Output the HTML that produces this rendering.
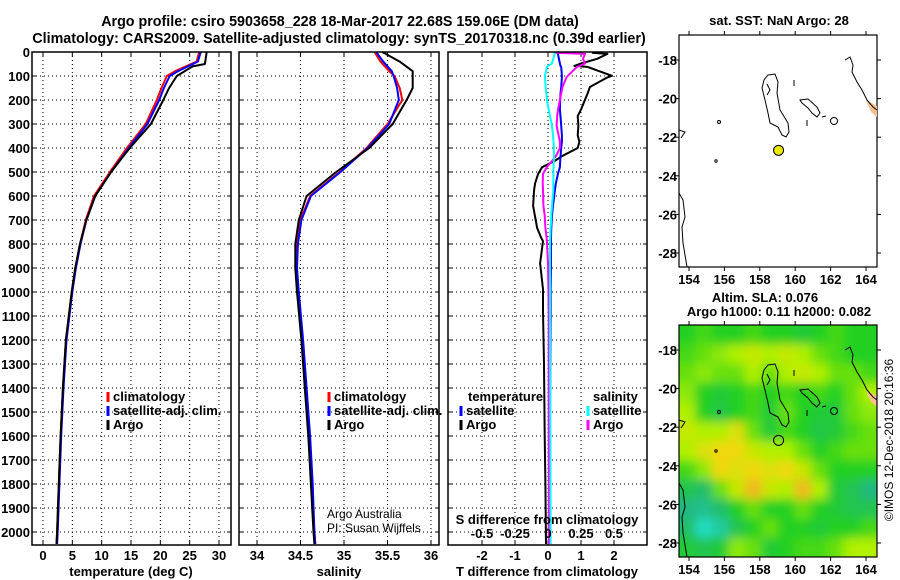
<!DOCTYPE html>
<html><head><meta charset="utf-8">
<style>
html,body{margin:0;padding:0;background:#fff;}
svg{display:block;font-family:"Liberation Sans",Arial,sans-serif;}
.b{font-weight:bold;}
</style></head>
<body>
<svg id="svg" width="900" height="580" viewBox="0 0 900 580" xmlns="http://www.w3.org/2000/svg">
<defs>
<filter id="blur" x="-5%" y="-5%" width="110%" height="110%"><feGaussianBlur stdDeviation="5"/></filter>
<clipPath id="mapclip"><rect x="679" y="325" width="198" height="232"/></clipPath>
</defs>
<text x="340" y="26" text-anchor="middle" class="b" font-size="14.3">Argo profile: csiro 5903658_228 18-Mar-2017 22.68S 159.06E (DM data)</text>
<text x="339" y="43" text-anchor="middle" class="b" font-size="14.3">Climatology: CARS2009. Satellite-adjusted climatology: synTS_20170318.nc (0.39d earlier)</text>
<g id="g"></g>
<text transform="translate(893,440) rotate(-90)" text-anchor="middle" font-size="12">©IMOS 12-Dec-2018 20:16:36</text>
</svg>
<script>
// ---------- data ----------
const depthArgoT = [0,50,60,100,150,200,300,400,500,600,700,800,900,1000,1200,1400,1600,1800,2000,2050];
const tempArgo   = [27.9,27.6,25.5,22.8,21.5,20.5,18.4,14.8,11.6,8.9,7.4,6.3,5.5,4.9,3.9,3.4,3.0,2.7,2.4,2.3];
const depthClim  = [0,40,80,100,150,200,300,400,500,600,700,800,900,1000,1200,1400,1600,1800,2000,2050];
const tempClim   = [26.6,26.2,22.5,21.1,20.2,19.4,17.5,14.3,11.4,8.7,7.3,6.3,5.5,4.9,3.9,3.4,3.0,2.7,2.4,2.3];
const tempSat    = [26.9,26.4,23.0,21.6,20.6,19.8,17.8,14.6,11.6,8.9,7.4,6.4,5.6,5.0,4.0,3.5,3.1,2.8,2.5,2.4];
const salArgo    = [35.44,35.64,35.79,35.79,35.79,35.72,35.56,35.29,34.91,34.57,34.48,34.44,34.44,34.46,34.51,34.55,34.59,34.62,34.65,34.66];
const salClim    = [35.35,35.42,35.52,35.58,35.64,35.67,35.50,35.26,34.95,34.61,34.50,34.46,34.45,34.47,34.52,34.56,34.60,34.63,34.66,34.67];
const salSat     = [35.37,35.45,35.55,35.57,35.61,35.63,35.52,35.27,34.96,34.62,34.51,34.47,34.46,34.48,34.53,34.57,34.61,34.64,34.66,34.67];
const depthDiff  = [3,8,28,48,58,62,99,106,146,173,199,240,267,307,347,374,400,434,454,480,508,547,575,641,680,709,733,776,788,881,988,1080,1300,1600,1800,2050];
const dTArgo     = [1.33,1.8,1.5,1.0,0.8,1.2,1.94,1.8,1.27,1.2,1.12,1.0,0.9,0.92,0.9,0.95,0.9,0.42,0.2,-0.18,-0.3,-0.39,-0.42,-0.45,-0.4,-0.36,-0.33,-0.2,-0.15,-0.24,-0.15,-0.15,-0.12,-0.1,-0.08,-0.06];
const dTSat      = [0.3,0.3,0.33,0.36,0.38,0.4,0.42,0.42,0.4,0.38,0.37,0.36,0.38,0.4,0.42,0.42,0.4,0.38,0.37,0.36,0.3,0.24,0.21,0.15,0.12,0.11,0.1,0.09,0.09,0.09,0.08,0.08,0.07,0.06,0.05,0.05];
const dSArgo     = [0.053,0.28,0.265,0.28,0.24,0.22,0.15,0.14,0.11,0.1,0.09,0.076,0.07,0.065,0.08,0.09,0.09,0.06,0.03,-0.01,-0.038,-0.04,-0.038,-0.035,-0.025,-0.023,-0.02,-0.01,-0.008,0.0,0.003,0.005,0.005,0.005,0.006,0.006];
const dSSat      = [0.053,0.05,0.04,0.03,0.0,-0.008,-0.023,-0.023,-0.018,-0.012,-0.008,0.005,0.015,0.03,0.038,0.042,0.045,0.045,0.044,0.042,0.041,0.04,0.04,0.03,0.025,0.023,0.02,0.017,0.016,0.015,0.015,0.015,0.016,0.018,0.019,0.02];
const depthTicks = [0,100,200,300,400,500,600,700,800,900,1000,1100,1200,1300,1400,1500,1600,1700,1800,1900,2000];
const tTicks = [0,5,10,15,20,25,30];
const sTicks = [34,34.5,35,35.5,36];
const dTTicks = [-2,-1,0,1,2];
const dSTicks = [-0.5,-0.25,0,0.25,0.5];
const dSTickLabels = ["-0.5","-0.25","0","0.25","0.5"];
const lonTicks = [154,156,158,160,162,164];
const latTicks = [-18,-20,-22,-24,-26,-28];
const argoLon = 159.06, argoLat = -22.68;
const slaGrid = [
[0.5,0.55,0.5,0.5,0.55,0.5,0.5,0.45,0.5,0.55,0.5,0.5],
[0.55,0.6,0.65,0.7,0.75,0.7,0.75,0.7,0.6,0.55,0.5,0.5],
[0.6,0.65,0.6,0.6,0.7,0.6,0.7,0.75,0.7,0.6,0.6,0.55],
[0.65,0.5,0.45,0.5,0.55,0.5,0.55,0.5,0.55,0.5,0.6,0.7],
[0.7,0.5,0.42,0.5,0.55,0.45,0.6,0.5,0.45,0.45,0.6,0.65],
[0.75,0.7,0.7,0.8,0.6,0.45,0.55,0.5,0.42,0.45,0.55,0.6],
[0.7,0.8,0.85,0.85,0.75,0.7,0.7,0.6,0.5,0.55,0.6,0.6],
[0.55,0.65,0.85,0.8,0.85,0.8,0.85,0.75,0.6,0.5,0.5,0.5],
[0.4,0.35,0.6,0.75,0.95,0.75,0.7,0.95,0.7,0.45,0.4,0.3],
[0.3,0.25,0.35,0.5,0.6,0.5,0.5,0.6,0.5,0.45,0.4,0.4],
[0.35,0.1,0.2,0.4,0.5,0.6,0.5,0.5,0.45,0.5,0.5,0.55],
[0.45,0.4,0.45,0.65,0.6,0.45,0.5,0.55,0.55,0.6,0.7,0.7]];

// ---------- helpers ----------
const NS="http://www.w3.org/2000/svg";
const G=document.getElementById('g');
function mk(tag,attrs,parent){const e=document.createElementNS(NS,tag);for(const k in attrs)e.setAttribute(k,attrs[k]);(parent||G).appendChild(e);return e;}
function txt(s,x,y,anchor,size,bold,parent){const t=mk('text',{x:x,y:y,'text-anchor':anchor,'font-size':size,'font-weight':bold?'bold':'normal'},parent);t.textContent=s;return t;}
const TOP=52, BOT=545;
const yD=d=>TOP+d*0.24;
function scale(v0,p0,v1,p1){return v=>p0+(v-v0)*(p1-p0)/(v1-v0);}
const xT=scale(0,43,30,219);
const xS=scale(34,257,36,431);
const xDT=scale(0,548,2,614);
const xDS=scale(0,548,0.5,614);

function grid(L,R,xs,f){
  depthTicks.forEach(d=>{const y=yD(d);
    const gl=mk('line',{x1:L,x2:R,y1:y,y2:y,stroke:'#000','stroke-dasharray':'1,3','stroke-width':1});
    
    
    mk('line',{x1:L,x2:L+4,y1:y,y2:y,stroke:'#000'});mk('line',{x1:R-4,x2:R,y1:y,y2:y,stroke:'#000'});});
  xs.forEach(v=>{const x=f(v);
    const gl=mk('line',{x1:x,x2:x,y1:TOP,y2:BOT,stroke:'#000','stroke-dasharray':'1,3','stroke-width':1});
    
    
    mk('line',{x1:x,x2:x,y1:BOT-4,y2:BOT,stroke:'#000'});mk('line',{x1:x,x2:x,y1:TOP,y2:TOP+4,stroke:'#000'});});
}
function frame(L,R,name){const r=mk('rect',{x:L,y:TOP,width:R-L,height:BOT-TOP,fill:'none',stroke:'#000','stroke-width':1.5});
  
  }
function line(xs,ds,f,color,name,w){
  const pts=xs.map((v,i)=>f(v).toFixed(1)+','+yD(ds[i]).toFixed(1)).join(' ');
  const p=mk('polyline',{points:pts,fill:'none',stroke:color,'stroke-width':w||2,'stroke-linejoin':'round'});
  
  
}
function legendEntry(x,y,color,label,name){
  mk('line',{x1:x,x2:x,y1:y-9,y2:y+1,stroke:color,'stroke-width':3});
  const t=txt(label,x+5,y,'start',13,true);
  
  
}

// ---------- panel 1 ----------
grid(32,231,tTicks,xT);
line(tempClim,depthClim,xT,'#f00','temp-climatology-line');
line(tempSat,depthClim,xT,'#00f','temp-satellite-line');
line(tempArgo,depthArgoT,xT,'#000','temp-argo-line');
frame(32,231,'temperature-panel');
depthTicks.forEach(d=>{const t=txt(String(d),30,yD(d)+5,'end',13,true);
  
  });
tTicks.forEach(v=>{const t=txt(String(v),xT(v),560,'middle',13,true);
  
  });
let at=txt('temperature (deg C)',131,576,'middle',13,true);


legendEntry(108,401,'#f00','climatology','legend-climatology');
legendEntry(108,415,'#00f','satellite-adj. clim.','legend-satellite-adj');
legendEntry(108,429,'#000','Argo','legend-argo');

// ---------- panel 2 ----------
grid(239,439,sTicks,xS);
line(salClim,depthClim,xS,'#f00','sal-climatology-line');
line(salSat,depthClim,xS,'#00f','sal-satellite-line');
line(salArgo,depthClim,xS,'#000','sal-argo-line');
frame(239,439,'salinity-panel');
sTicks.forEach(v=>{const t=txt(String(v),xS(v),560,'middle',13,true);
  
  });
at=txt('salinity',339,576,'middle',13,true);


legendEntry(329,401,'#f00','climatology','legend-climatology-2');
legendEntry(329,415,'#00f','satellite-adj. clim.','legend-satellite-adj-2');
legendEntry(329,429,'#000','Argo','legend-argo-2');
let cr=txt('Argo Australia',327,518,'start',12,false);


cr=txt('PI: Susan Wijffels',327,532,'start',12,false);



// ---------- panel 3 ----------
grid(448,647,dTTicks,xDT);
line(dTArgo,depthDiff,xDT,'#000','dT-argo-line');
line(dTSat,depthDiff,xDT,'#00f','dT-satellite-line');
line(dSArgo,depthDiff,xDS,'#f0f','dS-argo-line');
line(dSSat,depthDiff,xDS,'#0ff','dS-satellite-line');
frame(448,647,'difference-panel');
dTTicks.forEach(v=>{const t=txt(String(v),xDT(v),560,'middle',13,true);
  
  });
dSTicks.forEach((v,i)=>{const t=txt(dSTickLabels[i],xDS(v),538,'middle',13,true);
  
  });
at=txt('S difference from climatology',547,524,'middle',13,true);


at=txt('T difference from climatology',547,576,'middle',13,true);


at=txt('temperature',468,401,'start',13,true);


at=txt('salinity',593,401,'start',13,true);


legendEntry(461,415,'#00f','satellite','legend-t-satellite');
legendEntry(461,429,'#000','Argo','legend-t-argo');
legendEntry(588,415,'#0ff','satellite','legend-s-satellite');
legendEntry(588,429,'#f0f','Argo','legend-s-argo');

// ---------- maps ----------
const ML=679, MR=877;
const xLon=scale(154,689,164,866);
function slaColor(v){
  const st=[[0,32,240,224],[0.3,32,184,128],[0.5,32,208,32],[0.7,176,240,0],[0.85,240,216,16],[1,240,168,32]];
  for(let i=1;i<st.length;i++){if(v<=st[i][0]){const a=st[i-1],b=st[i],t=(v-a[0])/(b[0]-a[0]);
    return 'rgb('+[1,2,3].map(k=>Math.round(a[k]+t*(b[k]-a[k]))).join(',')+')';}}
  return 'rgb(240,168,32)';
}
function coast(dy,parent){
  const g=mk('g',{transform:'translate(0,'+dy+')',fill:'none',stroke:'#000','stroke-width':1},parent);
  
  
  mk('polygon',{points:'866,100 877,106 877,117 871,112',fill:'#f8c090',stroke:'none'},g);
  mk('path',{d:'M768,75 L775,74 L778,82 L777,93 L780,110 L788,123 L789,132 L786,137 L782,135 L778,127 L770,123 L768,113 L765,100 L762,88 L764,80 Z M767,84 L770,90 L767,95'},g);
  mk('path',{d:'M794,80 L794,86'},g);
  mk('path',{d:'M800,100 L808,99 L817,107 L820,113 L817,117 L812,113 L808,108 L802,103 Z M807,120 L807,126 M822,117 L826,116'},g);
  mk('circle',{cx:834,cy:121,r:3.5},g);
  mk('path',{d:'M845,60 L850,57 L853,65 L852,72 L857,82 L862,90 L867,100 L873,107 L877,110'},g);
  mk('path',{d:'M679,130 L685,132 L681,138'},g);
  mk('path',{d:'M679,193 L683,200 L685,217 L682,227 L683,243 L687,267'},g);
  mk('circle',{cx:719,cy:122,r:1.5},g);
  mk('circle',{cx:716,cy:161,r:1.2},g);
}
function mapAxes(top,bot,name){
  const yLat=scale(-18,top+25,-28,top+218);
  const r=mk('rect',{x:ML,y:top,width:MR-ML,height:bot-top,fill:'none',stroke:'#000','stroke-width':1.2});
  
  
  lonTicks.forEach(v=>{const x=xLon(v);mk('line',{x1:x,x2:x,y1:top-4,y2:top,stroke:'#000'});mk('line',{x1:x,x2:x,y1:bot,y2:bot+4,stroke:'#000'});
    const t=txt(String(v),x,bot+17,'middle',13,true);
    
    });
  latTicks.forEach(v=>{const y=yLat(v);mk('line',{x1:MR,x2:MR+4,y1:y,y2:y,stroke:'#000'});mk('line',{x1:ML-4,x2:ML,y1:y,y2:y,stroke:'#000'});
    const t=txt(String(v),677,y+5,'end',13,true);
    
    });
  return yLat;
}
// top map
const yLat1=mapAxes(35,267,'sst-map');
coast(0);
const dot=mk('circle',{cx:xLon(argoLon),cy:yLat1(argoLat),r:5,fill:'#e8e800',stroke:'#000','stroke-width':1});


at=txt('sat. SST: NaN Argo: 28',779,25,'middle',13,true);


// bottom map
const T2=325,B2=557;
const rows=slaGrid.length, cols=slaGrid[0].length;
const cw=(MR-ML)/cols, ch=(B2-T2)/rows;
const clipG=mk('g',{'clip-path':'url(#mapclip)'});


mk('rect',{x:ML,y:T2,width:MR-ML,height:B2-T2,fill:slaColor(0.5)},clipG);
const heatG=mk('g',{filter:'url(#blur)'},clipG);
slaGrid.forEach((row,i)=>row.forEach((v,j)=>{
  const x0=ML+j*cw-(j===0?12:0), y0=T2+i*ch-(i===0?12:0);
  const w=cw+0.6+(j===0||j===cols-1?12:0), h=ch+0.6+(i===0||i===rows-1?12:0);
  const c=mk('rect',{x:x0.toFixed(2),y:y0.toFixed(2),width:w.toFixed(2),height:h.toFixed(2),fill:slaColor(v)},heatG);
  
  
}));
coast(290);
const yLat2=mapAxes(T2,B2,'sla-map');
const ring=mk('circle',{cx:xLon(argoLon),cy:yLat2(argoLat),r:5,fill:'none',stroke:'#000','stroke-width':1});


at=txt('Altim. SLA: 0.076',765,302,'middle',13,true);


at=txt('Argo h1000: 0.11 h2000: 0.082',779,316,'middle',13,true);


</script>
</body></html>
